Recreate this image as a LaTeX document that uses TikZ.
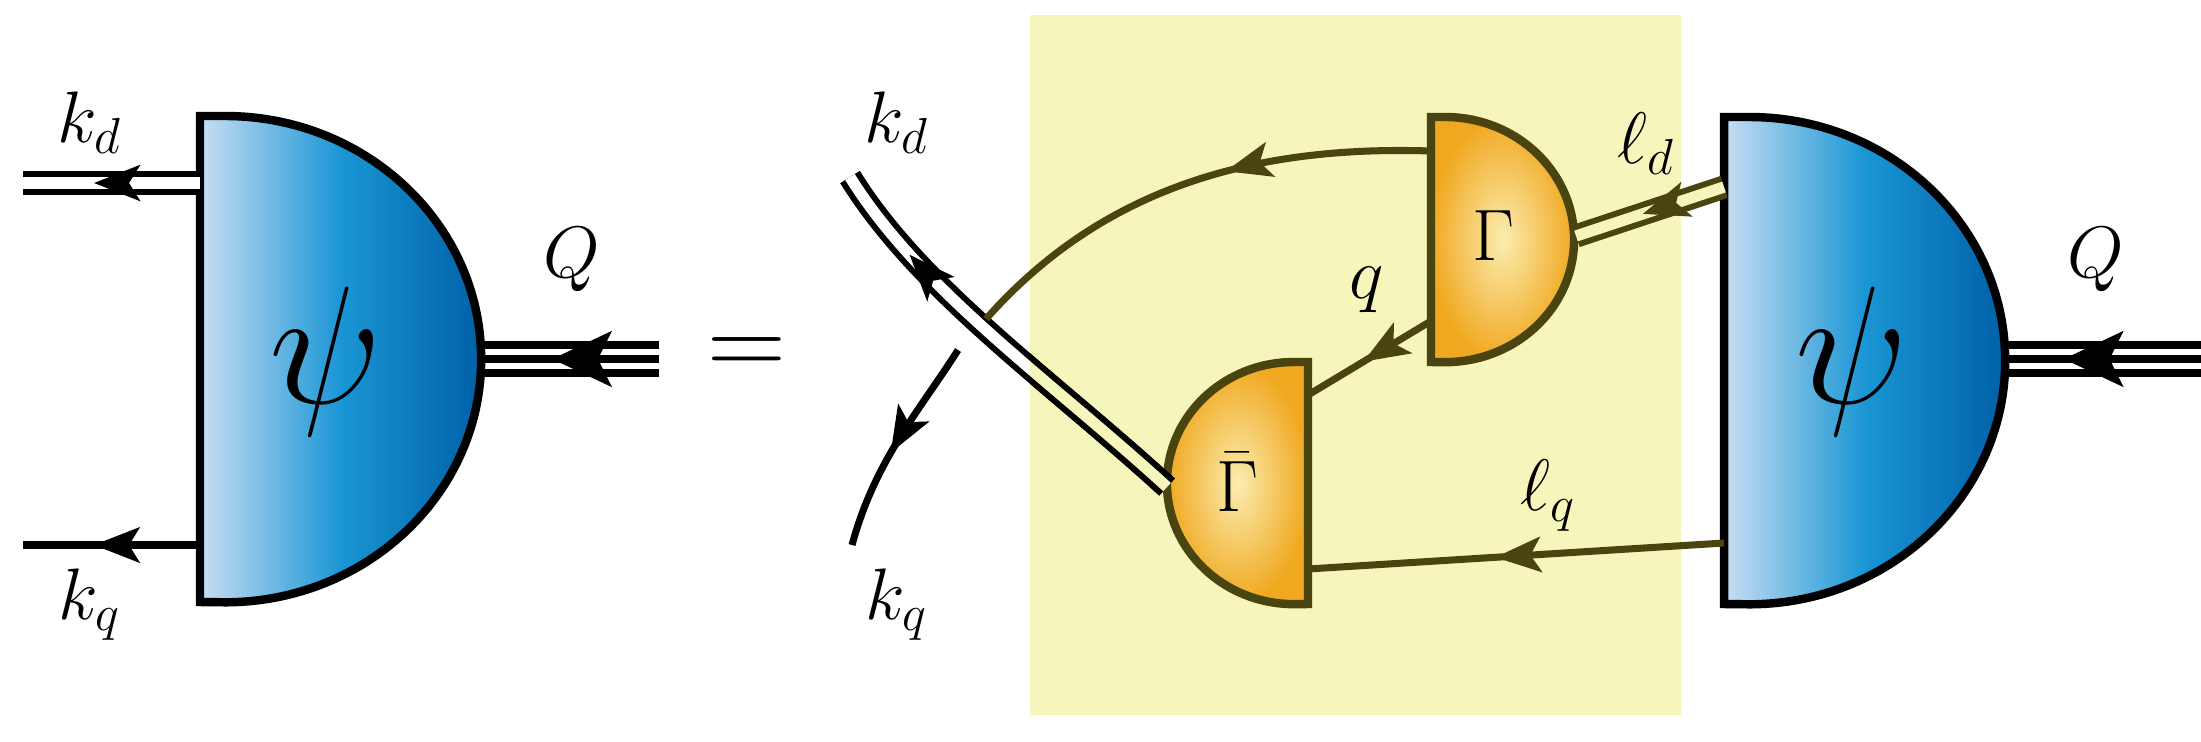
\documentclass[tikz,border=0pt]{standalone}
\usetikzlibrary{decorations.markings,arrows.meta}
\definecolor{olv}{HTML}{4A4410}
\definecolor{bl1}{HTML}{C8DEF3}
\definecolor{bl2}{HTML}{1A96D4}
\definecolor{bl3}{HTML}{0060A8}
\definecolor{or1}{HTML}{FBEDB0}
\definecolor{or2}{HTML}{F0A820}
\definecolor{yel}{HTML}{F5F5BC}
\begin{document}
\begin{tikzpicture}[x=0.01cm,y=0.01cm,
  lab/.style={font=\fontsize{22}{26}\selectfont},
  psis/.style={font=\fontsize{22}{26}\selectfont,scale=2.3},
  ol/.style={draw=olv, line width=2pt},
  bk/.style={draw=black, line width=2pt},
  dbl/.style={double distance=3.2pt, line width=1.7pt},
  arr/.style={postaction={decorate},decoration={markings,mark=at position #1 with {\arrow{Stealth[length=13pt,width=10pt,inset=3pt]}}}},
  arrb/.style={postaction={decorate},decoration={markings,mark=at position #1 with {\arrow{Stealth[length=17pt,width=16pt,inset=4pt]}}}},
  bluefill/.style={left color=bl1, right color=bl3, middle color=bl2},
  orangefill/.style={inner color=or1, outer color=or2}]
\useasboundingbox (0,0) rectangle (2201,741);
% yellow box
\fill[yel] (1030,26) rectangle (1681,726);
% left psi
\shade[bluefill,bk,line width=2.4pt] (200,625) -- (225,625) arc[start angle=90,end angle=-90,x radius=2.56cm,y radius=2.43cm] -- (200,139) -- cycle;
\node[psis] (psiL) at (326,379) {$\psi$};
\coordinate (kdA) at (200,558); \coordinate (kdB) at (23,558);
\coordinate (kqA) at (200,196); \coordinate (kqB) at (23,196);
\draw[bk,dbl,arr=0.6] (kdA) -- (kdB);
\draw[bk,arr=0.6] (kqA) -- (kqB);
\node[lab] (kdL) at (90,618) {$k_d$};
\node[lab] (kqL) at (90,136) {$k_q$};
\coordinate (QA) at (659,382); \coordinate (QB) at (481,382);
\foreach \dy in {-14,0,14} \draw[bk] ([yshift=\dy*0.01cm]QA) -- ([yshift=\dy*0.01cm]QB);
\draw[draw=none,arrb=0.6] (QA) -- (QB);
\node[lab] (QL) at (572,481) {$Q$};
\node[lab,scale=1.5] (eq) at (747,384) {$=$};
% Gamma
\shade[orangefill,ol,line width=2.4pt] (1431,624) -- (1445,624) arc[start angle=90,end angle=-90,x radius=1.29cm,y radius=1.225cm] -- (1431,379) -- cycle;
\node[lab] (G) at (1493,505) {$\Gamma$};
% Gamma bar
\shade[orangefill,ol,line width=2.4pt] (1308,379) -- (1294,379) arc[start angle=90,end angle=270,x radius=1.27cm,y radius=1.21cm] -- (1308,137) -- cycle;
\node[lab] (Gb) at (1237,259) {$\bar\Gamma$};
% right psi
\shade[bluefill,bk,line width=2.4pt] (1724,624) -- (1749,624) arc[start angle=90,end angle=-90,x radius=2.56cm,y radius=2.435cm] -- (1724,137) -- cycle;
\node[psis] (psiR) at (1852,379) {$\psi$};
\coordinate (QA2) at (2201,382); \coordinate (QB2) at (2005,382);
\foreach \dy in {-14,0,14} \draw[bk] ([yshift=\dy*0.01cm]QA2) -- ([yshift=\dy*0.01cm]QB2);
\draw[draw=none,arrb=0.7] (QA2) -- (QB2);
\node[lab] (QR) at (2096,481) {$Q$};
% cross lines
\coordinate (x1) at (850,564); \coordinate (Gbl) at (1167,254);
\draw[bk,dbl,double=white,arr=0.78] (Gbl) .. controls (1050,361) and (920,451) .. (x1);
\begin{scope}
\clip (1030,26) rectangle (1681,726);
\draw[bk,dbl,double=yel] (Gbl) .. controls (1050,361) and (920,451) .. (x1);
\end{scope}
\coordinate (y1) at (852,196); \coordinate (y2) at (958,391);
\draw[bk,arr=0.55] (y2) .. controls (920,331) and (875,281) .. (y1);
\coordinate (z1) at (986,422); \coordinate (Gl) at (1431,590);
\draw[ol,arr=0.42] (Gl) .. controls (1250,596) and (1100,551) .. (z1);
\node[lab] (kdR) at (897,618) {$k_d$};
\node[lab] (kqR) at (897,136) {$k_q$};
% inner lines
\coordinate (Gq) at (1431,420); \coordinate (Gbq) at (1308,346);
\draw[ol,arr=0.55] (Gq) -- (Gbq);
\node[lab] (qL) at (1367,451) {$q$};
\coordinate (Gr) at (1576,505); \coordinate (Pl) at (1724,554);
\draw[ol,dbl,double=yel,arr=0.55] (Pl) -- (Gr);
\node[lab] (ldL) at (1646,597) {$\ell_d$};
\coordinate (Pl2) at (1724,198); \coordinate (Gbr) at (1308,172);
\draw[ol,arr=0.55] (Pl2) -- (Gbr);
\node[lab] (lqL) at (1548,245) {$\ell_q$};
\end{tikzpicture}
\end{document}
